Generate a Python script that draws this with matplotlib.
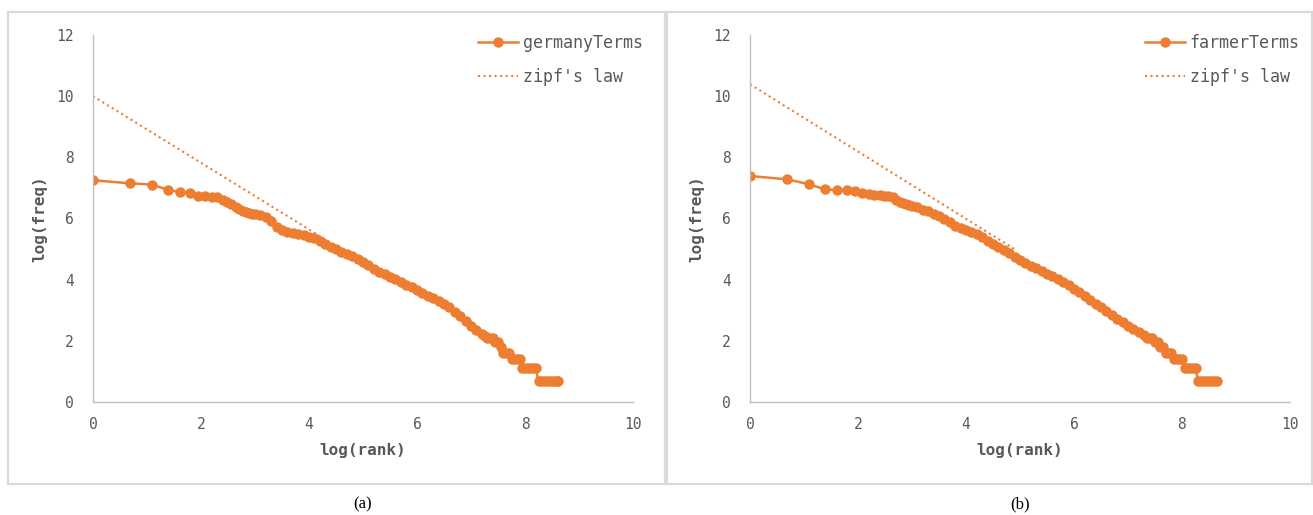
import numpy as np
import matplotlib
matplotlib.use('Agg')
import matplotlib.pyplot as plt
from matplotlib.patches import Rectangle

# panel (a): germanyTerms, log(rank) vs log(freq)
germany_x = [0, 0.69, 1.10, 1.39, 1.61, 1.79, 1.95, 2.08, 2.20, 2.30, 2.40, 2.48, 2.56, 2.64, 2.71,
             2.77, 2.83, 2.89, 2.94, 3.00, 3.1, 3.2, 3.3, 3.4, 3.5, 3.6, 3.7, 3.8, 3.9, 4.0, 4.1, 4.2,
             4.3, 4.4, 4.5, 4.6, 4.7, 4.8, 4.9, 5.0, 5.1, 5.2, 5.3, 5.4, 5.5, 5.6, 5.7, 5.8, 5.9, 6.0,
             6.1, 6.2, 6.3, 6.4, 6.5, 6.6, 6.7, 6.8, 6.9, 7.0, 7.1, 7.2, 7.25, 7.3, 7.35, 7.4, 7.45,
             7.5, 7.55, 7.6, 7.65, 7.7, 7.75, 7.8, 7.85, 7.9, 7.95, 8.0, 8.05, 8.1, 8.15, 8.2, 8.25,
             8.3, 8.35, 8.4, 8.45, 8.5, 8.55, 8.6, 8.62]
germany_y = [7.25, 7.15, 7.11, 6.93, 6.87, 6.85, 6.73, 6.75, 6.71, 6.69, 6.62, 6.55, 6.46, 6.38, 6.30,
             6.24, 6.20, 6.18, 6.16, 6.14, 6.11, 6.06, 5.92, 5.72, 5.61, 5.56, 5.53, 5.49, 5.45, 5.41,
             5.36, 5.27, 5.16, 5.06, 4.99, 4.92, 4.85, 4.76, 4.67, 4.57, 4.47, 4.36, 4.25, 4.17, 4.10,
             4.03, 3.93, 3.84, 3.75, 3.66, 3.57, 3.48, 3.40, 3.30, 3.20, 3.09, 2.95, 2.80, 2.64, 2.49,
             2.37, 2.23, 2.15, 2.08, 2.08, 2.08, 1.95, 1.95, 1.79, 1.61, 1.61, 1.61, 1.39, 1.39, 1.39,
             1.39, 1.10, 1.10, 1.10, 1.10, 1.10, 1.10, 0.69, 0.69, 0.69, 0.69, 0.69, 0.69, 0.69, 0.69,
             0.69]
zipf_a_x = [0, 4.7]
zipf_a_y = [10.0, 4.88]

# panel (b): farmerTerms
farmer_x = [0, 0.69, 1.10, 1.39, 1.61, 1.79, 1.95, 2.08, 2.20, 2.30, 2.40, 2.48, 2.56, 2.64, 2.71,
            2.77, 2.83, 2.89, 2.94, 3.00, 3.1, 3.2, 3.3, 3.4, 3.5, 3.6, 3.7, 3.8, 3.9, 4.0, 4.1, 4.2,
            4.3, 4.4, 4.5, 4.6, 4.7, 4.8, 4.9, 5.0, 5.1, 5.2, 5.3, 5.4, 5.5, 5.6, 5.7, 5.8, 5.9, 6.0,
            6.1, 6.2, 6.3, 6.4, 6.5, 6.6, 6.7, 6.8, 6.9, 7.0, 7.1, 7.2, 7.3, 7.35, 7.4, 7.45, 7.5,
            7.55, 7.6, 7.65, 7.7, 7.75, 7.8, 7.85, 7.9, 7.95, 8.0, 8.05, 8.1, 8.15, 8.2, 8.25, 8.3,
            8.35, 8.4, 8.45, 8.5, 8.55, 8.6, 8.65]
farmer_y = [7.39, 7.28, 7.12, 6.95, 6.93, 6.93, 6.91, 6.84, 6.80, 6.78, 6.76, 6.74, 6.72, 6.70, 6.62,
            6.55, 6.50, 6.46, 6.44, 6.41, 6.36, 6.29, 6.23, 6.15, 6.07, 5.98, 5.88, 5.76, 5.68, 5.61,
            5.55, 5.48, 5.38, 5.26, 5.17, 5.08, 4.97, 4.86, 4.74, 4.63, 4.54, 4.45, 4.37, 4.28, 4.20,
            4.12, 4.02, 3.92, 3.81, 3.70, 3.59, 3.48, 3.35, 3.22, 3.10, 2.97, 2.85, 2.72, 2.61, 2.50,
            2.40, 2.30, 2.20, 2.08, 2.08, 2.08, 1.95, 1.95, 1.79, 1.79, 1.61, 1.61, 1.61, 1.39, 1.39,
            1.39, 1.39, 1.10, 1.10, 1.10, 1.10, 1.10, 0.69, 0.69, 0.69, 0.69, 0.69, 0.69, 0.69, 0.69]
zipf_b_x = [0, 4.9]
zipf_b_y = [10.39, 5.0]

ticks = [0, 2, 4, 6, 8, 10, 12]
orange = '#ED7D31'
gray = '#595959'
mono = 'DejaVu Sans Mono'

fig = plt.figure(figsize=(13.13, 5.15), dpi=100)

# light gray frames round each panel
for x0, x1 in [(8, 665), (667, 1312)]:
    fig.patches.append(Rectangle((x0/1313, 1 - 484/515), (x1 - x0)/1313, 472/515,
                                 transform=fig.transFigure, fill=False,
                                 edgecolor='#d9d9d9', linewidth=1.6))

panels = [
    (93, germany_x, germany_y, zipf_a_x, zipf_a_y, 'germanyTerms', '(a)'),
    (750, farmer_x, farmer_y, zipf_b_x, zipf_b_y, 'farmerTerms', '(b)'),
]

for left, xs, ys, zx, zy, name, cap in panels:
    ax = fig.add_axes([left/1313, 1 - 402/515, 540/1313, 367/515])
    ax.plot(xs, ys, color=orange, linewidth=1.8, marker='o', markersize=7.5,
            markeredgewidth=0, label=name)
    ax.plot(zx, zy, color=orange, linewidth=1.5, linestyle=':', label="zipf's law")
    ax.set_xlim(0, 10)
    ax.set_ylim(0, 12)
    ax.set_xticks([0, 2, 4, 6, 8, 10])
    ax.set_yticks(ticks)
    for s in ['top', 'right']:
        ax.spines[s].set_visible(False)
    for s in ['left', 'bottom']:
        ax.spines[s].set_color('#bfbfbf')
        ax.spines[s].set_linewidth(1.0)
    ax.tick_params(length=0, colors=gray, labelsize=10.5)
    ax.tick_params(axis='y', pad=14)
    ax.tick_params(axis='x', pad=11)
    for lab in ax.get_xticklabels() + ax.get_yticklabels():
        lab.set_family(mono)
    ax.set_xlabel('log(rank)', family=mono, fontweight='bold', fontsize=11.5, color=gray, labelpad=8)
    ax.set_ylabel('log(freq)', family=mono, fontweight='bold', fontsize=11.5, color=gray, labelpad=6)
    leg = ax.legend(loc='upper right', bbox_to_anchor=(1.03, 1.02), frameon=False,
                    prop={'family': mono, 'size': 12}, handlelength=2.4,
                    handletextpad=0.3, labelspacing=0.95, borderaxespad=0)
    for t in leg.get_texts():
        t.set_color(gray)
    fig.text((left + 270)/1313, 1 - 504/515, cap, family='Liberation Serif',
             fontsize=12, ha='center', va='center', color='black')

plt.savefig('out.png', dpi=100)
